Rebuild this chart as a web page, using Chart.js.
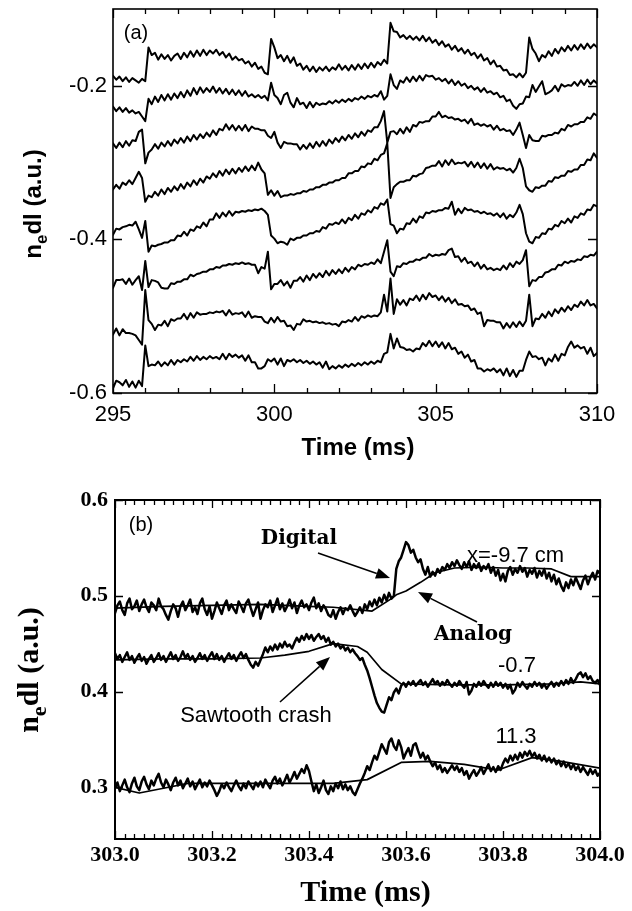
<!DOCTYPE html>
<html><head><meta charset="utf-8">
<script src="https://cdn.jsdelivr.net/npm/chart.js@4.4.1/dist/chart.umd.min.js"></script>
<style>
html,body{margin:0;padding:0;background:#fff;}
#wrap{position:relative;width:632px;height:911px;overflow:hidden;}
canvas{position:absolute;left:0;}
#ca{top:0;} #cb{top:470px;}
</style></head><body>
<div id="wrap"><canvas id="ca" width="632" height="470"></canvas><canvas id="cb" width="632" height="441"></canvas></div>
<script>
// ---------- Panel (a) data: 8 chords, sampled every 0.1 ms from 295 ms ----------
const timeA0 = 295, timeAStep = 0.1;
const chordA1 = [-0.187,-0.192,-0.188,-0.194,-0.189,-0.195,-0.190,-0.193,-0.196,-0.191,
-0.194,-0.150,-0.160,-0.157,-0.166,-0.159,-0.165,-0.160,-0.167,-0.161,
-0.158,-0.165,-0.157,-0.163,-0.155,-0.162,-0.154,-0.161,-0.153,-0.160,
-0.154,-0.158,-0.153,-0.160,-0.156,-0.163,-0.158,-0.166,-0.162,-0.167,
-0.165,-0.171,-0.168,-0.175,-0.170,-0.178,-0.175,-0.183,-0.185,-0.139,
-0.150,-0.164,-0.160,-0.168,-0.161,-0.170,-0.163,-0.174,-0.171,-0.179,
-0.174,-0.181,-0.175,-0.182,-0.176,-0.180,-0.175,-0.181,-0.176,-0.179,
-0.172,-0.179,-0.174,-0.180,-0.173,-0.179,-0.172,-0.178,-0.171,-0.177,
-0.170,-0.176,-0.169,-0.173,-0.166,-0.171,-0.118,-0.129,-0.130,-0.137,
-0.134,-0.139,-0.135,-0.140,-0.136,-0.141,-0.135,-0.142,-0.137,-0.144,
-0.140,-0.147,-0.142,-0.149,-0.146,-0.153,-0.148,-0.155,-0.151,-0.158,
-0.153,-0.160,-0.157,-0.164,-0.159,-0.167,-0.164,-0.172,-0.167,-0.175,
-0.174,-0.180,-0.179,-0.186,-0.185,-0.189,-0.184,-0.189,-0.183,-0.137,
-0.152,-0.158,-0.168,-0.160,-0.163,-0.155,-0.161,-0.152,-0.158,-0.150,
-0.155,-0.148,-0.154,-0.147,-0.153,-0.146,-0.152,-0.145,-0.151,-0.146,
-0.150];
const chordA2 = [-0.227,-0.233,-0.228,-0.234,-0.229,-0.235,-0.232,-0.236,-0.234,-0.240,
-0.246,-0.217,-0.224,-0.214,-0.221,-0.212,-0.219,-0.211,-0.218,-0.210,
-0.216,-0.208,-0.215,-0.206,-0.213,-0.203,-0.211,-0.202,-0.209,-0.203,
-0.208,-0.201,-0.209,-0.203,-0.210,-0.204,-0.211,-0.205,-0.212,-0.206,
-0.213,-0.207,-0.214,-0.211,-0.215,-0.212,-0.216,-0.213,-0.219,-0.196,
-0.212,-0.216,-0.224,-0.212,-0.209,-0.222,-0.228,-0.216,-0.224,-0.222,
-0.229,-0.221,-0.228,-0.222,-0.225,-0.223,-0.224,-0.220,-0.223,-0.219,
-0.222,-0.218,-0.221,-0.217,-0.220,-0.216,-0.218,-0.214,-0.217,-0.213,
-0.215,-0.212,-0.214,-0.207,-0.218,-0.213,-0.185,-0.199,-0.204,-0.193,
-0.196,-0.189,-0.195,-0.188,-0.194,-0.187,-0.193,-0.186,-0.188,-0.187,
-0.192,-0.190,-0.194,-0.191,-0.197,-0.192,-0.199,-0.194,-0.200,-0.197,
-0.203,-0.200,-0.205,-0.202,-0.208,-0.203,-0.209,-0.207,-0.211,-0.209,
-0.215,-0.213,-0.220,-0.218,-0.226,-0.230,-0.224,-0.223,-0.214,-0.215,
-0.199,-0.208,-0.201,-0.194,-0.211,-0.209,-0.206,-0.200,-0.207,-0.198,
-0.201,-0.199,-0.200,-0.195,-0.200,-0.193,-0.199,-0.192,-0.198,-0.193,
-0.197];
const chordA3 = [-0.275,-0.281,-0.274,-0.280,-0.272,-0.278,-0.271,-0.272,-0.260,-0.257,
-0.301,-0.287,-0.283,-0.276,-0.282,-0.274,-0.279,-0.272,-0.278,-0.270,
-0.275,-0.268,-0.274,-0.266,-0.272,-0.264,-0.270,-0.263,-0.268,-0.261,
-0.266,-0.258,-0.264,-0.256,-0.258,-0.250,-0.257,-0.251,-0.258,-0.252,
-0.258,-0.251,-0.259,-0.253,-0.256,-0.256,-0.258,-0.258,-0.265,-0.268,
-0.260,-0.274,-0.281,-0.273,-0.275,-0.275,-0.276,-0.276,-0.283,-0.277,
-0.282,-0.275,-0.281,-0.273,-0.279,-0.272,-0.278,-0.270,-0.275,-0.268,
-0.273,-0.266,-0.271,-0.264,-0.269,-0.262,-0.267,-0.260,-0.265,-0.258,
-0.260,-0.254,-0.254,-0.246,-0.233,-0.274,-0.260,-0.259,-0.263,-0.256,
-0.262,-0.254,-0.260,-0.251,-0.253,-0.247,-0.248,-0.246,-0.246,-0.240,
-0.240,-0.234,-0.241,-0.239,-0.242,-0.241,-0.244,-0.243,-0.246,-0.244,
-0.249,-0.243,-0.251,-0.249,-0.252,-0.250,-0.253,-0.251,-0.257,-0.252,
-0.258,-0.256,-0.259,-0.258,-0.264,-0.257,-0.248,-0.264,-0.281,-0.264,
-0.271,-0.272,-0.272,-0.265,-0.266,-0.264,-0.264,-0.261,-0.262,-0.256,
-0.258,-0.251,-0.253,-0.250,-0.250,-0.247,-0.247,-0.241,-0.243,-0.236,
-0.239];
const chordA4 = [-0.335,-0.329,-0.334,-0.326,-0.329,-0.323,-0.328,-0.320,-0.312,-0.320,
-0.351,-0.343,-0.345,-0.338,-0.343,-0.335,-0.341,-0.333,-0.338,-0.331,
-0.336,-0.328,-0.334,-0.326,-0.331,-0.323,-0.329,-0.321,-0.326,-0.318,
-0.321,-0.314,-0.319,-0.311,-0.317,-0.309,-0.315,-0.308,-0.314,-0.307,
-0.312,-0.305,-0.311,-0.304,-0.310,-0.300,-0.309,-0.314,-0.342,-0.336,
-0.343,-0.337,-0.345,-0.343,-0.343,-0.341,-0.342,-0.340,-0.340,-0.337,
-0.338,-0.335,-0.335,-0.332,-0.332,-0.329,-0.329,-0.326,-0.326,-0.323,
-0.323,-0.320,-0.320,-0.314,-0.314,-0.311,-0.311,-0.305,-0.306,-0.301,
-0.302,-0.295,-0.297,-0.290,-0.288,-0.275,-0.346,-0.332,-0.328,-0.325,
-0.325,-0.323,-0.323,-0.317,-0.318,-0.315,-0.314,-0.307,-0.306,-0.304,
-0.304,-0.298,-0.305,-0.297,-0.303,-0.296,-0.302,-0.300,-0.301,-0.299,
-0.305,-0.299,-0.306,-0.300,-0.307,-0.301,-0.308,-0.302,-0.309,-0.306,
-0.308,-0.307,-0.310,-0.308,-0.313,-0.307,-0.295,-0.307,-0.331,-0.336,
-0.338,-0.332,-0.333,-0.330,-0.330,-0.324,-0.325,-0.319,-0.320,-0.317,
-0.317,-0.311,-0.312,-0.309,-0.309,-0.303,-0.303,-0.296,-0.297,-0.288,
-0.294];
const chordA5 = [-0.394,-0.386,-0.387,-0.384,-0.383,-0.381,-0.382,-0.377,-0.387,-0.398,
-0.376,-0.416,-0.408,-0.409,-0.407,-0.406,-0.404,-0.404,-0.401,-0.401,
-0.395,-0.396,-0.390,-0.395,-0.387,-0.389,-0.383,-0.385,-0.378,-0.383,
-0.374,-0.374,-0.366,-0.372,-0.365,-0.370,-0.363,-0.369,-0.364,-0.365,
-0.363,-0.364,-0.362,-0.363,-0.361,-0.362,-0.360,-0.363,-0.368,-0.395,
-0.399,-0.405,-0.403,-0.404,-0.407,-0.399,-0.401,-0.398,-0.398,-0.395,
-0.395,-0.392,-0.392,-0.389,-0.390,-0.384,-0.386,-0.380,-0.381,-0.378,
-0.380,-0.374,-0.379,-0.372,-0.375,-0.368,-0.373,-0.366,-0.368,-0.362,
-0.365,-0.358,-0.360,-0.353,-0.355,-0.348,-0.380,-0.382,-0.392,-0.386,
-0.387,-0.379,-0.380,-0.373,-0.378,-0.370,-0.372,-0.365,-0.366,-0.363,
-0.364,-0.362,-0.362,-0.359,-0.360,-0.351,-0.368,-0.360,-0.366,-0.359,
-0.362,-0.361,-0.364,-0.363,-0.366,-0.364,-0.367,-0.366,-0.369,-0.366,
-0.371,-0.366,-0.373,-0.368,-0.371,-0.365,-0.355,-0.367,-0.392,-0.403,
-0.405,-0.397,-0.398,-0.392,-0.393,-0.386,-0.387,-0.381,-0.383,-0.376,
-0.379,-0.373,-0.378,-0.370,-0.372,-0.366,-0.368,-0.361,-0.362,-0.355,
-0.357];
const chordA6 = [-0.463,-0.453,-0.453,-0.452,-0.458,-0.451,-0.459,-0.453,-0.448,-0.466,
-0.428,-0.462,-0.453,-0.454,-0.456,-0.463,-0.464,-0.464,-0.457,-0.458,
-0.455,-0.455,-0.452,-0.452,-0.446,-0.448,-0.445,-0.444,-0.442,-0.442,
-0.439,-0.439,-0.436,-0.437,-0.434,-0.434,-0.432,-0.433,-0.431,-0.432,
-0.430,-0.432,-0.431,-0.433,-0.433,-0.444,-0.436,-0.438,-0.416,-0.465,
-0.458,-0.458,-0.453,-0.460,-0.455,-0.463,-0.454,-0.454,-0.449,-0.455,
-0.447,-0.453,-0.445,-0.450,-0.444,-0.449,-0.441,-0.447,-0.440,-0.445,
-0.439,-0.444,-0.437,-0.442,-0.436,-0.439,-0.433,-0.435,-0.432,-0.433,
-0.430,-0.432,-0.426,-0.431,-0.416,-0.401,-0.442,-0.448,-0.435,-0.436,
-0.431,-0.432,-0.429,-0.429,-0.426,-0.427,-0.424,-0.424,-0.419,-0.422,
-0.420,-0.421,-0.419,-0.420,-0.414,-0.412,-0.423,-0.422,-0.429,-0.424,
-0.431,-0.429,-0.435,-0.430,-0.438,-0.433,-0.439,-0.437,-0.440,-0.438,
-0.440,-0.434,-0.439,-0.431,-0.436,-0.429,-0.432,-0.427,-0.414,-0.461,
-0.453,-0.454,-0.449,-0.449,-0.443,-0.442,-0.439,-0.439,-0.433,-0.434,
-0.429,-0.431,-0.428,-0.429,-0.426,-0.427,-0.422,-0.423,-0.420,-0.421,
-0.416];
const chordA7 = [-0.524,-0.516,-0.525,-0.517,-0.522,-0.522,-0.523,-0.525,-0.531,-0.537,
-0.466,-0.505,-0.510,-0.518,-0.511,-0.512,-0.506,-0.513,-0.504,-0.506,
-0.503,-0.503,-0.497,-0.504,-0.496,-0.502,-0.495,-0.498,-0.497,-0.497,
-0.495,-0.496,-0.494,-0.495,-0.493,-0.499,-0.492,-0.498,-0.496,-0.497,
-0.495,-0.501,-0.494,-0.502,-0.500,-0.501,-0.501,-0.507,-0.509,-0.502,
-0.508,-0.501,-0.507,-0.506,-0.513,-0.512,-0.518,-0.510,-0.511,-0.504,
-0.507,-0.506,-0.508,-0.507,-0.509,-0.508,-0.510,-0.509,-0.511,-0.510,
-0.513,-0.507,-0.508,-0.505,-0.507,-0.501,-0.506,-0.500,-0.502,-0.499,
-0.501,-0.499,-0.500,-0.495,-0.472,-0.494,-0.451,-0.497,-0.478,-0.485,
-0.479,-0.486,-0.477,-0.479,-0.473,-0.480,-0.472,-0.478,-0.470,-0.475,
-0.473,-0.479,-0.474,-0.481,-0.476,-0.483,-0.478,-0.485,-0.484,-0.487,
-0.486,-0.492,-0.490,-0.497,-0.495,-0.513,-0.505,-0.506,-0.506,-0.508,
-0.508,-0.516,-0.509,-0.515,-0.508,-0.514,-0.507,-0.513,-0.506,-0.472,
-0.513,-0.503,-0.504,-0.497,-0.502,-0.494,-0.500,-0.491,-0.496,-0.489,
-0.494,-0.487,-0.492,-0.485,-0.488,-0.481,-0.486,-0.479,-0.486,-0.484,
-0.490];
const chordA8 = [-0.594,-0.584,-0.586,-0.590,-0.583,-0.592,-0.585,-0.593,-0.584,-0.591,
-0.538,-0.565,-0.563,-0.564,-0.559,-0.565,-0.560,-0.564,-0.557,-0.563,
-0.557,-0.560,-0.556,-0.559,-0.553,-0.558,-0.552,-0.557,-0.553,-0.556,
-0.552,-0.555,-0.553,-0.556,-0.549,-0.556,-0.549,-0.553,-0.550,-0.554,
-0.551,-0.558,-0.551,-0.560,-0.560,-0.568,-0.568,-0.565,-0.556,-0.559,
-0.555,-0.563,-0.555,-0.565,-0.557,-0.559,-0.556,-0.560,-0.557,-0.561,
-0.558,-0.562,-0.559,-0.563,-0.560,-0.567,-0.559,-0.569,-0.565,-0.568,
-0.564,-0.567,-0.563,-0.566,-0.562,-0.565,-0.561,-0.564,-0.560,-0.563,
-0.559,-0.562,-0.558,-0.560,-0.549,-0.547,-0.523,-0.542,-0.529,-0.540,
-0.541,-0.544,-0.543,-0.546,-0.542,-0.543,-0.535,-0.539,-0.532,-0.539,
-0.533,-0.540,-0.534,-0.542,-0.535,-0.543,-0.541,-0.549,-0.546,-0.554,
-0.550,-0.559,-0.557,-0.568,-0.568,-0.572,-0.569,-0.571,-0.568,-0.573,
-0.569,-0.577,-0.568,-0.578,-0.570,-0.579,-0.571,-0.571,-0.557,-0.546,
-0.553,-0.552,-0.556,-0.554,-0.564,-0.555,-0.559,-0.550,-0.558,-0.549,
-0.551,-0.540,-0.533,-0.541,-0.538,-0.542,-0.540,-0.549,-0.541,-0.552,
-0.548];
const xTicksA = [295, 300, 305, 310];
const yTicksA = [-0.6, -0.4, -0.2];

// ---------- Panel (b) data: digital sampled every 0.005 ms from 303 ms ----------
const timeB0 = 303, timeBStep = 0.005;
const digital1 = [0.482,0.490,0.494,0.485,0.480,0.492,0.497,0.486,0.489,0.495,0.484,0.491,0.496,0.488,0.483,0.493,0.490,0.485,0.497,0.489,
0.486,0.480,0.475,0.484,0.491,0.487,0.478,0.489,0.494,0.485,0.490,0.496,0.483,0.488,0.481,0.492,0.497,0.486,0.480,0.489,
0.476,0.484,0.493,0.487,0.481,0.490,0.495,0.485,0.491,0.486,0.482,0.494,0.489,0.483,0.492,0.496,0.487,0.479,0.486,0.493,
0.476,0.485,0.491,0.488,0.495,0.483,0.490,0.497,0.486,0.492,0.484,0.489,0.496,0.487,0.493,0.482,0.490,0.495,0.488,0.491,
0.485,0.493,0.498,0.487,0.492,0.484,0.490,0.486,0.480,0.478,0.485,0.476,0.483,0.488,0.481,0.487,0.485,0.490,0.484,0.479,
0.483,0.488,0.482,0.491,0.486,0.494,0.489,0.496,0.490,0.498,0.493,0.501,0.495,0.503,0.497,0.500,0.528,0.536,0.540,0.548,
0.556,0.553,0.545,0.548,0.540,0.535,0.538,0.528,0.522,0.530,0.520,0.525,0.521,0.528,0.524,0.530,0.527,0.533,0.529,0.535,
0.531,0.537,0.532,0.528,0.535,0.530,0.536,0.527,0.533,0.529,0.534,0.526,0.531,0.528,0.533,0.524,0.530,0.521,0.527,0.516,
0.523,0.515,0.526,0.530,0.522,0.528,0.524,0.531,0.525,0.529,0.520,0.527,0.523,0.529,0.519,0.526,0.521,0.528,0.518,0.524,
0.515,0.522,0.512,0.518,0.510,0.505,0.514,0.508,0.517,0.511,0.519,0.513,0.507,0.516,0.521,0.512,0.519,0.524,0.517,0.526,0.523];
const digital2 = [0.440,0.434,0.438,0.431,0.436,0.441,0.433,0.437,0.430,0.435,0.439,0.432,0.436,0.429,0.434,0.438,0.431,0.435,0.440,0.433,
0.437,0.431,0.436,0.441,0.434,0.438,0.432,0.436,0.442,0.435,0.439,0.433,0.437,0.431,0.435,0.440,0.434,0.438,0.432,0.437,
0.441,0.434,0.439,0.433,0.437,0.431,0.436,0.440,0.434,0.438,0.432,0.437,0.441,0.435,0.439,0.433,0.428,0.425,0.431,0.427,
0.433,0.439,0.446,0.441,0.447,0.443,0.449,0.444,0.450,0.446,0.452,0.447,0.449,0.445,0.451,0.456,0.452,0.458,0.454,0.460,
0.455,0.459,0.453,0.457,0.460,0.455,0.458,0.452,0.456,0.449,0.452,0.447,0.450,0.445,0.448,0.443,0.446,0.441,0.444,0.440,
0.437,0.433,0.435,0.428,0.422,0.414,0.405,0.396,0.388,0.383,0.379,0.378,0.386,0.394,0.391,0.399,0.403,0.398,0.406,0.409,
0.405,0.410,0.407,0.411,0.406,0.409,0.412,0.407,0.410,0.405,0.409,0.413,0.408,0.411,0.406,0.410,0.407,0.412,0.408,0.405,
0.409,0.406,0.411,0.407,0.404,0.410,0.397,0.401,0.408,0.405,0.410,0.406,0.411,0.407,0.404,0.409,0.405,0.410,0.406,0.409,
0.404,0.408,0.403,0.407,0.398,0.402,0.409,0.405,0.410,0.406,0.403,0.408,0.405,0.410,0.406,0.409,0.404,0.408,0.403,0.407,
0.410,0.405,0.409,0.406,0.411,0.407,0.412,0.408,0.414,0.409,0.413,0.418,0.420,0.415,0.419,0.413,0.416,0.411,0.409,0.412,0.407];
const digital3 = [0.299,0.305,0.296,0.302,0.308,0.300,0.295,0.304,0.310,0.301,0.297,0.306,0.311,0.303,0.298,0.307,0.302,0.309,0.314,0.305,
0.300,0.308,0.303,0.297,0.305,0.310,0.302,0.307,0.299,0.304,0.309,0.301,0.306,0.298,0.303,0.308,0.300,0.305,0.301,0.307,
0.302,0.297,0.291,0.296,0.303,0.299,0.305,0.300,0.296,0.302,0.307,0.301,0.297,0.304,0.299,0.306,0.302,0.298,0.305,0.301,
0.306,0.300,0.308,0.303,0.299,0.307,0.311,0.304,0.309,0.302,0.307,0.313,0.305,0.310,0.316,0.309,0.314,0.319,0.315,0.323,
0.317,0.306,0.296,0.303,0.294,0.300,0.307,0.297,0.293,0.301,0.296,0.304,0.299,0.306,0.298,0.303,0.297,0.301,0.295,0.292,
0.298,0.304,0.309,0.315,0.322,0.318,0.326,0.333,0.329,0.337,0.345,0.340,0.335,0.347,0.351,0.343,0.339,0.349,0.342,0.330,
0.336,0.341,0.333,0.344,0.346,0.338,0.331,0.336,0.329,0.333,0.327,0.322,0.326,0.319,0.323,0.316,0.320,0.315,0.319,0.323,
0.318,0.322,0.316,0.320,0.313,0.317,0.309,0.314,0.318,0.312,0.316,0.321,0.314,0.319,0.324,0.317,0.321,0.316,0.322,0.318,
0.325,0.330,0.326,0.333,0.328,0.334,0.329,0.336,0.331,0.337,0.333,0.338,0.332,0.336,0.330,0.334,0.328,0.333,0.327,0.331,
0.326,0.330,0.324,0.328,0.322,0.327,0.321,0.325,0.319,0.324,0.318,0.322,0.316,0.321,0.317,0.313,0.319,0.314,0.318,0.312,0.315];
const analogT1 = [303.00,303.10,303.20,303.30,303.40,303.45,303.53,303.57,303.58,303.60,303.63,303.66,303.70,303.75,303.80,303.85,303.90,303.94,304.00];
const analog1  = [0.487,0.489,0.490,0.491,0.489,0.488,0.484,0.497,0.501,0.505,0.514,0.524,0.529,0.530,0.529,0.529,0.528,0.520,0.520];
const analogT2 = [303.00,303.10,303.20,303.30,303.35,303.40,303.45,303.50,303.52,303.55,303.59,303.70,303.80,303.90,303.96,304.00];
const analog2  = [0.433,0.434,0.434,0.435,0.438,0.442,0.450,0.447,0.441,0.423,0.408,0.407,0.407,0.408,0.410,0.408];
const analogT3 = [303.00,303.05,303.10,303.15,303.30,303.45,303.52,303.59,303.65,303.72,303.79,303.86,303.92,304.00];
const analog3  = [0.300,0.294,0.299,0.304,0.304,0.304,0.308,0.326,0.327,0.324,0.318,0.331,0.327,0.320];
const xTicksB = [303.0, 303.2, 303.4, 303.6, 303.8, 304.0];
const yTicksB = [0.3, 0.4, 0.5, 0.6];

// ---------- helpers ----------
const SANS = '"Liberation Sans", Arial, Helvetica, sans-serif';
const SERIF = '"Liberation Serif", "Times New Roman", Times, serif';
const CENT = '"DejaVu Serif", serif';
function gridSeries(t0, dt, vals){ return vals.map((v,i)=>({x: +(t0 + i*dt).toFixed(4), y: v})); }
function pairSeries(ts, vs){ return ts.map((t,i)=>({x: t, y: vs[i]})); }
function line(data, w){ return {data, borderColor:'#000', borderWidth:w, pointRadius:0, tension:0, fill:false, borderJoinStyle:'round', borderCapStyle:'round'}; }
function rangeTicks(a, b, step){ const out=[]; const n=Math.round((b-a)/step); for(let i=0;i<=n;i++) out.push(a+i*step); return out; }

function yTitle(ctx, bx, cy, fam, size){
  const f = `bold ${size}px ${fam}`, fs = `bold ${Math.round(size*0.72)}px ${fam}`;
  ctx.save(); ctx.translate(bx, cy); ctx.rotate(-Math.PI/2);
  ctx.fillStyle='#000'; ctx.textBaseline='alphabetic'; ctx.textAlign='left';
  ctx.font=f; const w1=ctx.measureText('n').width, w3=ctx.measureText('dl (a.u.)').width;
  ctx.font=fs; const w2=ctx.measureText('e').width;
  let x = -(w1+w2+w3)/2;
  ctx.font=f; ctx.fillText('n', x, 0); x+=w1;
  ctx.font=fs; ctx.fillText('e', x, size*0.25); x+=w2;
  ctx.font=f; ctx.fillText('dl (a.u.)', x, 0);
  ctx.restore();
}
function text(ctx, s, x, y, font, align){ ctx.save(); ctx.font=font; ctx.fillStyle='#000'; ctx.textAlign=align||'center'; ctx.textBaseline='alphabetic'; ctx.fillText(s,x,y); ctx.restore(); }
function arrow(ctx, x1,y1,x2,y2){
  const ang=Math.atan2(y2-y1,x2-x1), L=14, W=5.5;
  const bx=x2-L*Math.cos(ang), by=y2-L*Math.sin(ang);
  ctx.save(); ctx.strokeStyle='#000'; ctx.fillStyle='#000'; ctx.lineWidth=1.6;
  ctx.beginPath(); ctx.moveTo(x1,y1); ctx.lineTo(bx,by); ctx.stroke();
  ctx.beginPath(); ctx.moveTo(x2,y2);
  ctx.lineTo(bx+W*Math.sin(ang), by-W*Math.cos(ang));
  ctx.lineTo(bx-W*Math.sin(ang), by+W*Math.cos(ang));
  ctx.closePath(); ctx.fill(); ctx.restore();
}
function framePlugin(o){
  return { id:'frame', afterDatasetsDraw(chart){
    const {ctx, chartArea:a, scales:{x,y}} = chart;
    ctx.save(); ctx.strokeStyle='#000';
    ctx.lineWidth=o.tickW; ctx.beginPath();
    const put=(vals,len)=>{ for(const v of vals){ const px=Math.round(x.getPixelForValue(v))+0.5;
      ctx.moveTo(px,a.bottom); ctx.lineTo(px,a.bottom-len); ctx.moveTo(px,a.top); ctx.lineTo(px,a.top+len);} };
    put(o.xMinor,o.minorLen); put(o.xMajor,o.majorLen);
    for(const v of o.yMajor){ const py=Math.round(y.getPixelForValue(v))+0.5;
      ctx.moveTo(a.left,py); ctx.lineTo(a.left+o.majorLen,py); ctx.moveTo(a.right,py); ctx.lineTo(a.right-o.majorLen,py); }
    ctx.stroke();
    ctx.lineWidth=o.boxW; ctx.strokeRect(a.left,a.top,a.right-a.left,a.bottom-a.top);
    ctx.restore();
  }, afterDraw(chart){ o.extra(chart.ctx, chart); } };
}
function axisCfg(min, max, tickVals, font, pad, fmt, horiz, size){
  return { type:'linear', min, max, grid:{display:false, drawTicks:false}, border:{display:false},
    ticks:{font, color:'#000', padding:pad, autoSkip:false, maxRotation:0, callback:(v)=>fmt(v)},
    afterBuildTicks:(s)=>{ s.ticks = tickVals.map(v=>({value:v})); },
    afterFit:(s)=>{ if(horiz){ s.height=size; s.paddingLeft=0; s.paddingRight=0; } else { s.width=size; s.paddingTop=0; s.paddingBottom=0; } } };
}
const common = {responsive:false, animation:false, events:[], plugins:{legend:{display:false}, tooltip:{enabled:false}}};

// ---------- Panel (a) ----------
const chordsA = [chordA1,chordA2,chordA3,chordA4,chordA5,chordA6,chordA7,chordA8];
new Chart(document.getElementById('ca'), {
  type:'line',
  data:{datasets: chordsA.map(c=>line(gridSeries(timeA0,timeAStep,c),2.0))},
  options:Object.assign({}, common, {
    layout:{padding:{left:0, top:9, right:35, bottom:0}},
    scales:{
      x: axisCfg(295,310,xTicksA,{family:SANS,size:22},9,v=>String(v),true,77),
      y: axisCfg(-0.6,-0.1,yTicksA,{family:SANS,size:22},6,v=>v.toFixed(1),false,113)
    }
  }),
  plugins:[framePlugin({tickW:1.3, boxW:1.6, majorLen:9, minorLen:5,
    xMajor:xTicksA, xMinor:rangeTicks(295,310,1), yMajor:yTicksA,
    extra:(ctx,ch)=>{
      const a=ch.chartArea;
      text(ctx,'(a)',136,39,`20px ${SANS}`);
      text(ctx,'Time (ms)',(a.left+a.right)/2+3,455,`bold 24px ${SANS}`);
      yTitle(ctx,41,204,SANS,24);
    }})]
});

// ---------- Panel (b) ----------
new Chart(document.getElementById('cb'), {
  type:'line',
  data:{datasets:[
    line(gridSeries(timeB0,timeBStep,digital1),2.5),
    line(pairSeries(analogT1,analog1),1.7),
    line(gridSeries(timeB0,timeBStep,digital2),2.5),
    line(pairSeries(analogT2,analog2),1.7),
    line(gridSeries(timeB0,timeBStep,digital3),2.5),
    line(pairSeries(analogT3,analog3),1.7)
  ]},
  options:Object.assign({}, common, {
    layout:{padding:{left:0, top:30, right:32, bottom:0}},
    scales:{
      x: axisCfg(303,304,xTicksB,{family:SERIF,size:22,weight:'bold'},3,v=>v.toFixed(1),true,72),
      y: axisCfg(0.246,0.6,yTicksB,{family:SERIF,size:22,weight:'bold'},7,v=>v.toFixed(1),false,115)
    }
  }),
  plugins:[framePlugin({tickW:1.3, boxW:2, majorLen:8, minorLen:5,
    xMajor:xTicksB, xMinor:rangeTicks(303,304,0.02), yMajor:yTicksB,
    extra:(ctx,ch)=>{
      const a=ch.chartArea;
      text(ctx,'(b)',141,61,`20px ${SANS}`);
      text(ctx,'Digital',299,74,`bold 20px ${CENT}`);
      text(ctx,'Analog',473,170,`bold 20px ${CENT}`);
      text(ctx,'x=-9.7 cm',467,92,`22px ${SANS}`,'left');
      text(ctx,'-0.7',517,202,`22px ${SANS}`);
      text(ctx,'11.3',516,273,`22px ${SANS}`);
      text(ctx,'Sawtooth crash',256,252,`22px ${SANS}`);
      arrow(ctx,318,83,390,108);
      arrow(ctx,477,152,418,122);
      arrow(ctx,280,232,330,187);
      text(ctx,'Time (ms)',(a.left+a.right)/2+8,431,`bold 30px ${SERIF}`);
      yTitle(ctx,38,200,SERIF,30);
    }})]
});
</script>
</body></html>
